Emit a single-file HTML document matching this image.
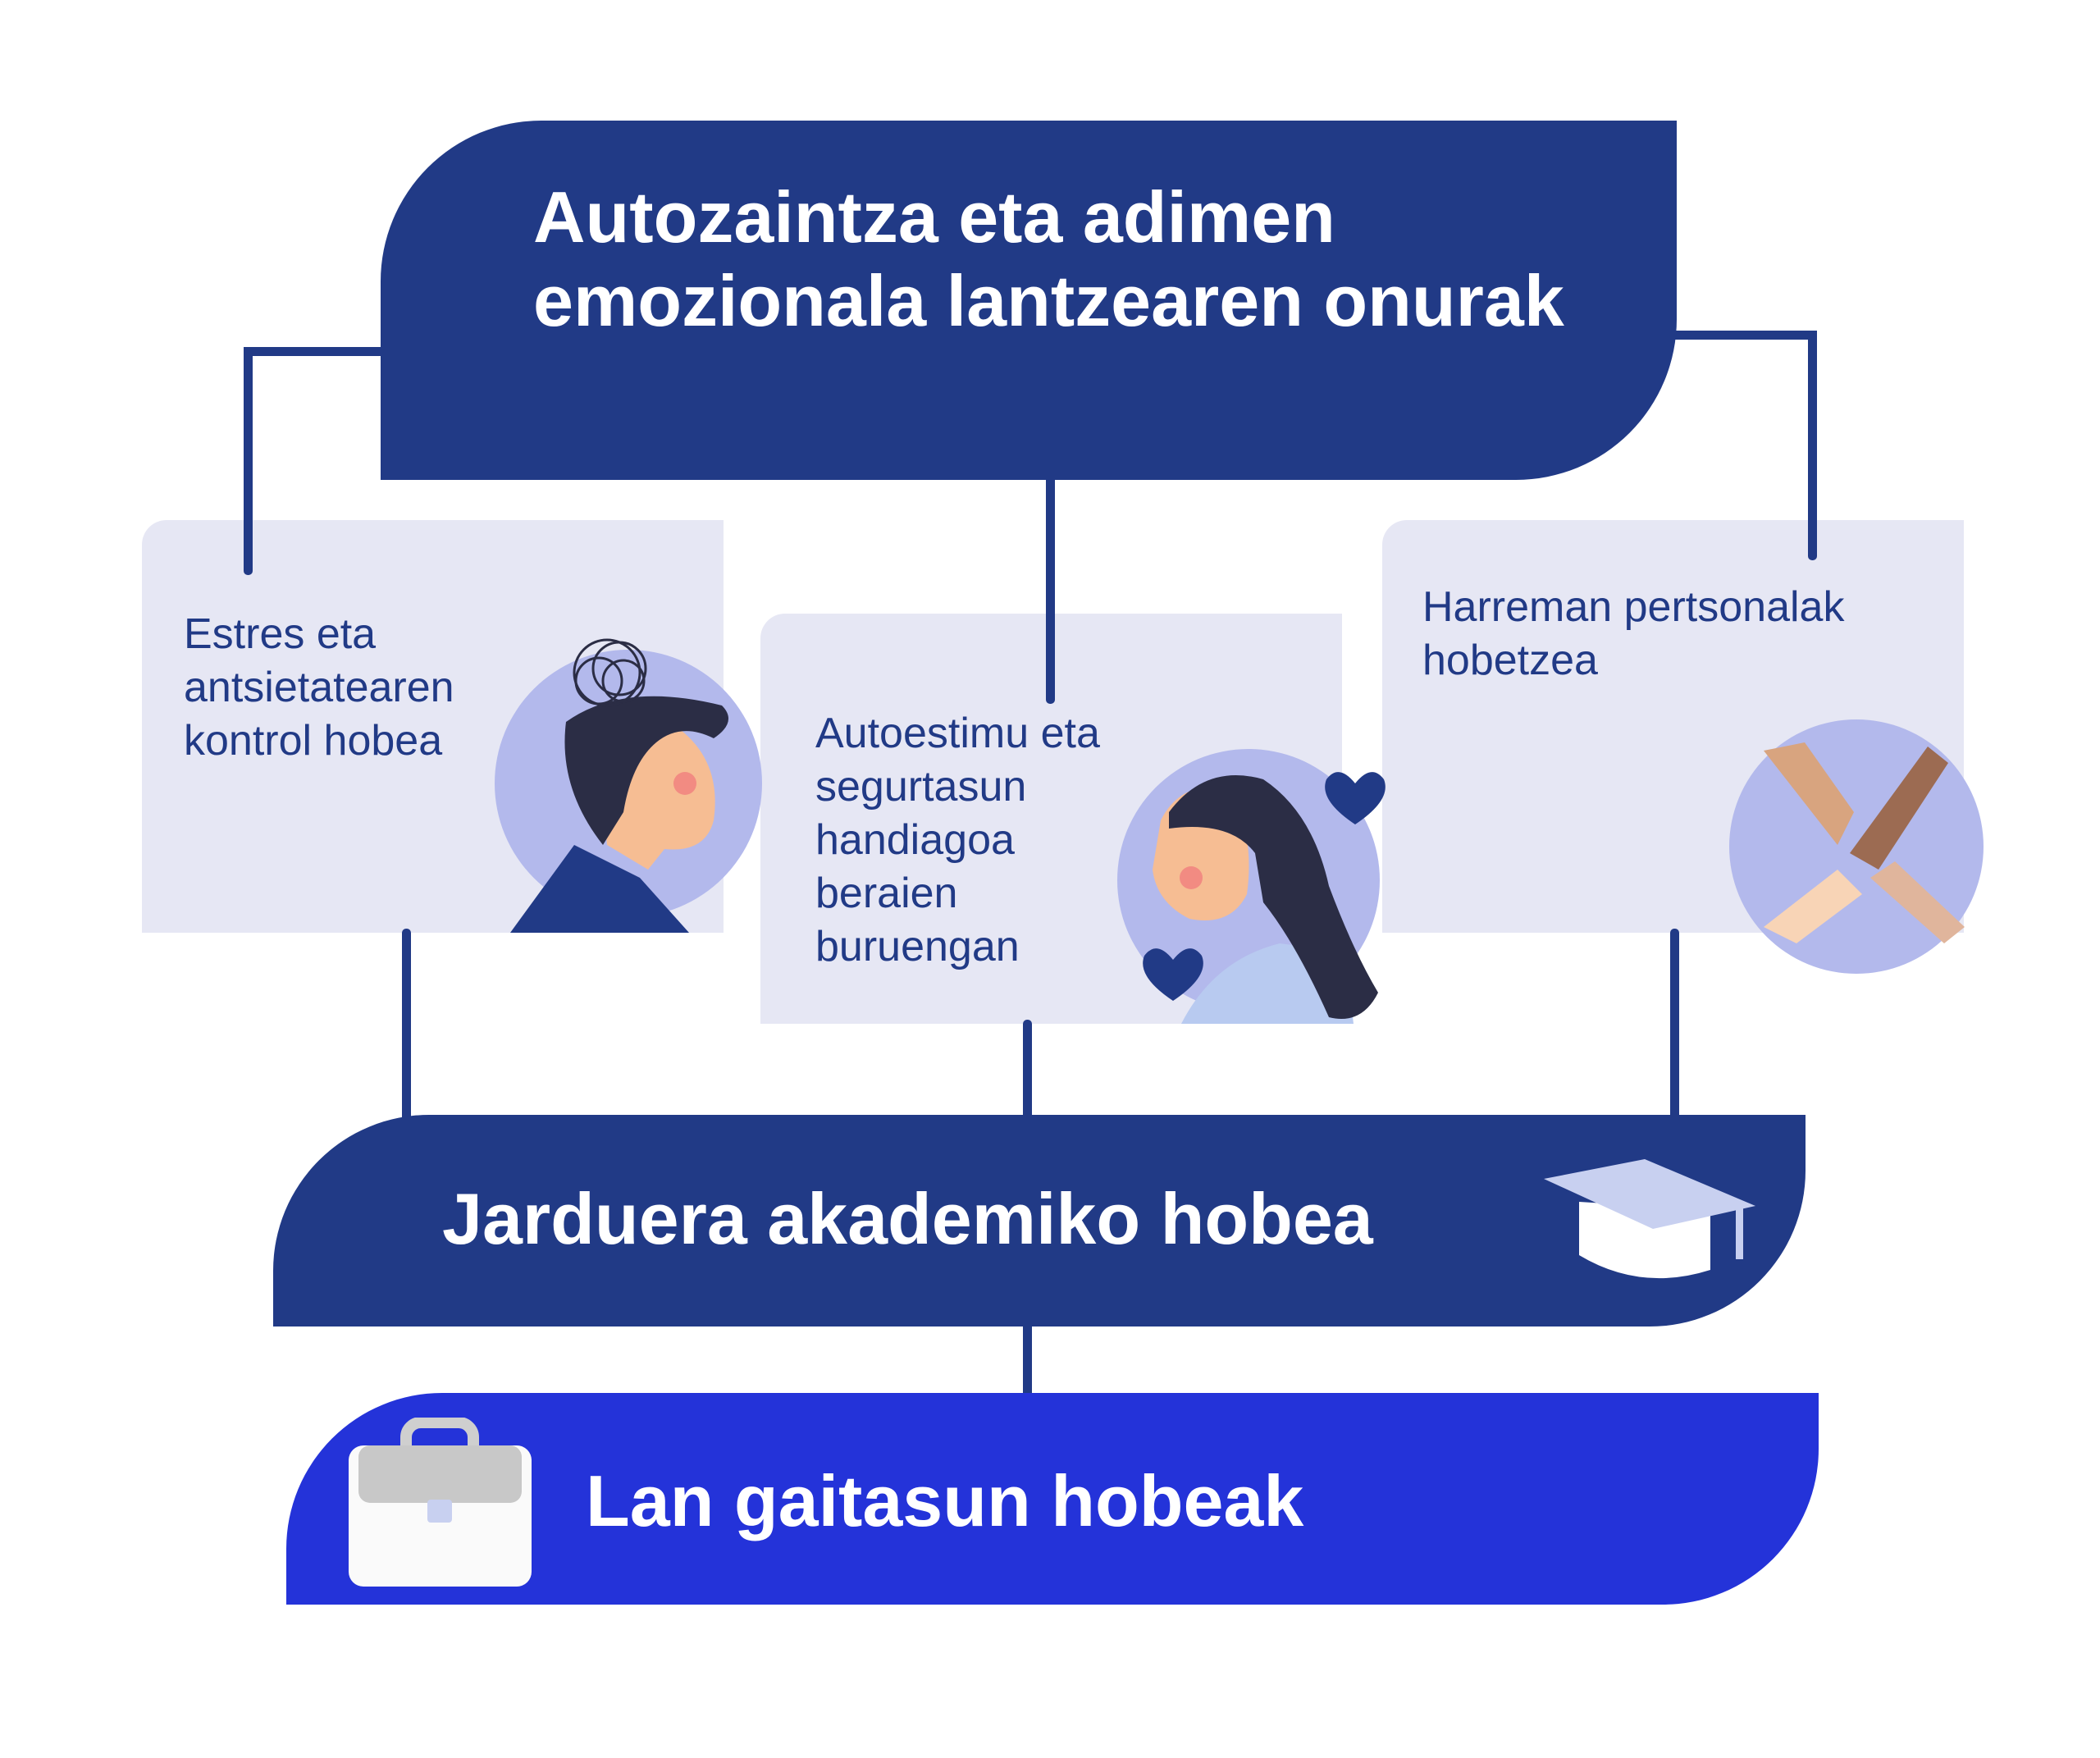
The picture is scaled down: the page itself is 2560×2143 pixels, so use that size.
<!DOCTYPE html>
<html><head><meta charset="utf-8"><style>
body{margin:0;width:2560px;height:2143px;background:#fff;position:relative;overflow:hidden;font-family:"Liberation Sans",sans-serif}
.a{position:absolute}
.ln{position:absolute;background:#213a86}
.card{position:absolute;background:#e6e7f4;border-top-left-radius:30px}
.ct{position:absolute;color:#213a86;font-size:52px;line-height:65px}
.wt{position:absolute;color:#fff;font-weight:bold;white-space:nowrap}
</style></head><body>
<!-- cards -->
<div class="card" style="left:173px;top:634px;width:709px;height:503px"></div>
<div class="card" style="left:927px;top:748px;width:709px;height:500px"></div>
<div class="card" style="left:1685px;top:634px;width:709px;height:503px"></div>
<!-- connectors -->
<div class="ln" style="left:297px;top:423px;width:170px;height:11px"></div>
<div class="ln" style="left:297px;top:423px;width:11px;height:278px;border-radius:5px"></div>
<div class="ln" style="left:2040px;top:403px;width:175px;height:11px"></div>
<div class="ln" style="left:2204px;top:403px;width:11px;height:280px;border-radius:5px"></div>
<div class="ln" style="left:1275px;top:580px;width:11px;height:278px;border-radius:5px"></div>
<div class="ln" style="left:490px;top:1132px;width:11px;height:235px;border-radius:5px"></div>
<div class="ln" style="left:1247px;top:1243px;width:11px;height:125px;border-radius:5px"></div>
<div class="ln" style="left:2036px;top:1132px;width:11px;height:235px;border-radius:5px"></div>
<div class="ln" style="left:1247px;top:1610px;width:11px;height:95px"></div>
<!-- top box -->
<div class="a" style="left:464px;top:147px;width:1580px;height:438px;background:#213a86;border-top-left-radius:196px;border-bottom-right-radius:196px"></div>
<div class="wt" style="left:650px;top:214px;font-size:88px;line-height:102px">Autozaintza eta adimen<br>emozionala lantzearen onurak</div>
<div class="ct" style="left:224px;top:741px">Estres eta<br>antsietatearen<br>kontrol hobea</div>
<div class="ct" style="left:994px;top:862px">Autoestimu eta<br>segurtasun<br>handiagoa<br>beraien<br>buruengan</div>
<div class="ct" style="left:1734px;top:708px">Harreman pertsonalak<br>hobetzea</div>
<!-- illustrations -->
<svg class="a" style="left:0;top:0" width="2560" height="2143">
 <circle cx="766" cy="955" r="163" fill="#b3b9ec"/>
 <path d="M622 1137 L700 1030 L780 1070 L840 1137Z" fill="#213a86"/>
 <path d="M730 920 Q760 880 830 890 Q880 930 870 1000 Q860 1040 810 1035 L790 1060 L740 1030Z" fill="#f6bd93"/>
 <path d="M690 880 Q760 830 880 860 Q900 880 870 900 Q830 880 800 905 Q770 930 760 990 L735 1030 Q680 960 690 880Z" fill="#2b2d45"/>
 <circle cx="835" cy="955" r="14" fill="#f28b82"/>
 <g fill="none" stroke="#2b2d45" stroke-width="3"><circle cx="740" cy="820" r="40"/><circle cx="755" cy="815" r="32"/><circle cx="730" cy="830" r="28"/><circle cx="760" cy="830" r="25"/></g>
 <circle cx="1522" cy="1073" r="160" fill="#b3b9ec"/>
 <path d="M1440 1248 Q1480 1170 1560 1150 L1640 1160 L1650 1248Z" fill="#b8caf0"/>
 <path d="M1415 1000 Q1440 950 1500 960 Q1530 1020 1520 1090 Q1500 1130 1450 1120 Q1410 1100 1405 1060Z" fill="#f6bd93"/>
 <path d="M1425 990 Q1470 930 1540 950 Q1600 990 1620 1080 Q1650 1160 1680 1210 Q1660 1250 1620 1240 Q1580 1150 1540 1100 L1530 1040 Q1500 1000 1425 1010Z" fill="#2b2d45"/>
 <circle cx="1452" cy="1070" r="14" fill="#f28b82"/>
 <path d="M1652 955 q-20 -25 -35 -5 q-10 25 35 55 q45 -30 35 -55 q-15 -20 -35 5Z" fill="#213a86"/>
 <path d="M1430 1170 q-20 -25 -35 -5 q-10 25 35 55 q45 -30 35 -55 q-15 -20 -35 5Z" fill="#213a86"/>
 <circle cx="2263" cy="1032" r="155" fill="#b3b9ec"/>
 <path d="M2150 915 L2200 905 L2260 990 L2240 1030Z" fill="#d8a47f"/>
 <path d="M2350 910 L2375 930 L2290 1060 L2255 1040Z" fill="#9c6b52"/>
 <path d="M2150 1130 L2190 1150 L2270 1090 L2240 1060Z" fill="#f8d4b6"/>
 <path d="M2370 1150 L2395 1130 L2310 1050 L2280 1070Z" fill="#e0b59c"/>
</svg>
<!-- academic box -->
<div class="a" style="left:333px;top:1359px;width:1868px;height:258px;background:#213a86;border-top-left-radius:190px;border-bottom-right-radius:190px"></div>
<svg class="a" style="left:1870px;top:1405px" width="280" height="170">
 <path d="M55 60 L55 125 Q130 170 215 143 L215 70Z" fill="#fff"/>
 <path d="M12 32 L135 8 L270 65 L145 93Z" fill="#c8d0f0"/>
 <rect x="246" y="65" width="9" height="65" fill="#c8d0f0"/>
</svg>
<div class="wt" style="left:539px;top:1436px;font-size:88px;line-height:100px">Jarduera akademiko hobea</div>
<!-- lan box -->
<div class="a" style="left:349px;top:1698px;width:1868px;height:258px;background:#2433d9;border-top-left-radius:190px;border-bottom-right-radius:190px"></div>
<svg class="a" style="left:425px;top:1728px" width="225" height="210">
 <rect x="70" y="6" width="82" height="50" rx="18" fill="none" stroke="#cfcfcf" stroke-width="14"/>
 <rect x="0" y="34" width="223" height="172" rx="18" fill="#fafafa"/>
 <rect x="12" y="34" width="199" height="70" rx="14" fill="#c8c8c8"/>
 <rect x="96" y="100" width="30" height="28" rx="4" fill="#c8d0f0"/>
</svg>
<div class="wt" style="left:714px;top:1780px;font-size:88px;line-height:100px">Lan gaitasun hobeak</div>
</body></html>
